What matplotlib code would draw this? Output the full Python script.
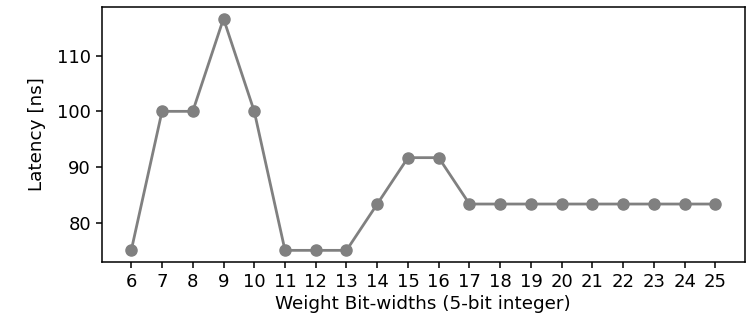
import matplotlib
matplotlib.use("Agg")
import matplotlib.pyplot as plt

bit_widths = list(range(6, 26))
latency_ns = [75, 100, 100, 116.67, 100, 75, 75, 75, 83.33, 91.67, 91.67,
              83.33, 83.33, 83.33, 83.33, 83.33, 83.33, 83.33, 83.33, 83.33]

fig, ax = plt.subplots(figsize=(7.56, 3.21), dpi=100)
fig.subplots_adjust(left=0.135, right=0.985, top=0.978, bottom=0.184)
ax.plot(bit_widths, latency_ns, marker='o', color='gray', markersize=8, linewidth=2)
ax.set_xticks(bit_widths)
ax.set_yticks([80, 90, 100, 110])
ax.set_xlabel('Weight Bit-widths (5-bit integer)', fontsize=13.2, labelpad=3)
ax.set_ylabel('Latency [ns]', fontsize=13.2, labelpad=8)
ax.tick_params(labelsize=13, length=4.5, width=1.1)
for s in ax.spines.values():
    s.set_linewidth(1.1)
fig.savefig('out.png', dpi=100)
